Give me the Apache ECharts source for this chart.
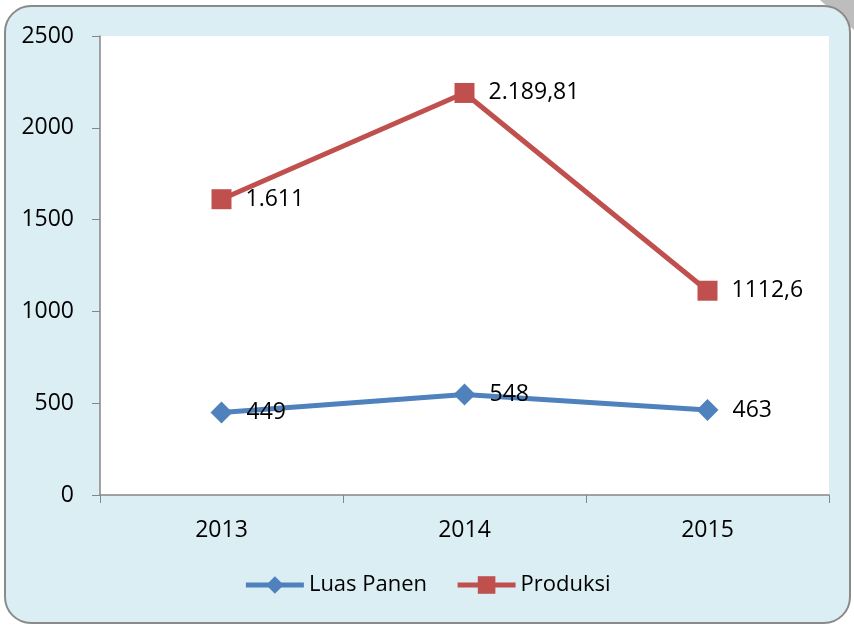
<!DOCTYPE html>
<html><head><meta charset="utf-8">
<script src="https://cdn.jsdelivr.net/npm/echarts@6/dist/echarts.min.js"></script>
<style>html,body{margin:0;padding:0;background:#fff}#c{width:854px;height:626px}</style>
</head><body><div id="c"></div>
<script>
var categories = ['2013', '2014', '2015'];
var luasPanen = [449, 548, 463];
var luasPanenLabels = ['449', '548', '463'];
var produksi = [1611, 2189.81, 1112.6];
var produksiLabels = ['1.611', '2.189,81', '1112,6'];
var yMin = 0, yMax = 2500, yStep = 500;

var chart = echarts.init(document.getElementById('c'));
var font = '"Open Sans", sans-serif';
var fs = 23;
chart.setOption({
  animation: false,
  graphic: [
    {type: 'polygon', z: -20, shape: {points: [[820, 0], [854, 0], [854, 30]]}, style: {fill: '#bdbdbd'}},
    {type: 'rect', z: -10, shape: {x: 5, y: 6, width: 845, height: 617, r: 26},
     style: {fill: '#dbeef4', stroke: '#8a8a8a', lineWidth: 2}}
  ],
  grid: {left: 100, right: 25, top: 36, bottom: 131, show: true, backgroundColor: '#ffffff', borderWidth: 0},
  legend: {
    bottom: 25, left: 'center', itemWidth: 58, itemHeight: 22, itemGap: 28,
    lineStyle: {width: 5},
    textStyle: {fontFamily: font, fontSize: 22, color: '#000'},
    data: ['Luas Panen', 'Produksi']
  },
  xAxis: {
    type: 'category', data: categories, boundaryGap: true,
    axisLine: {lineStyle: {color: '#868686', width: 1.5}},
    axisTick: {show: true, length: 8, lineStyle: {color: '#868686'}},
    axisLabel: {fontFamily: font, fontSize: fs, color: '#000', margin: 24}
  },
  yAxis: {
    type: 'value', min: yMin, max: yMax, interval: yStep,
    splitLine: {show: false},
    axisLine: {show: true, lineStyle: {color: '#868686', width: 1.5}},
    axisTick: {show: true, length: 8, lineStyle: {color: '#868686'}},
    axisLabel: {fontFamily: font, fontSize: fs, color: '#000', margin: 26,
      formatter: function (v) { return String(v); }}
  },
  series: [
    {
      name: 'Luas Panen', type: 'line', data: luasPanen,
      symbol: 'diamond', symbolSize: 22,
      lineStyle: {color: '#4f81bd', width: 5},
      itemStyle: {color: '#4f81bd'},
      label: {show: true, position: 'right', distance: 14, fontFamily: font, fontSize: fs, color: '#000',
        formatter: function (p) { return luasPanenLabels[p.dataIndex]; }}
    },
    {
      name: 'Produksi', type: 'line', data: produksi,
      symbol: 'rect', symbolSize: 20,
      lineStyle: {color: '#c0504d', width: 5},
      itemStyle: {color: '#c0504d'},
      label: {show: true, position: 'right', distance: 14, fontFamily: font, fontSize: fs, color: '#000',
        formatter: function (p) { return produksiLabels[p.dataIndex]; }}
    }
  ]
});
</script></body></html>
